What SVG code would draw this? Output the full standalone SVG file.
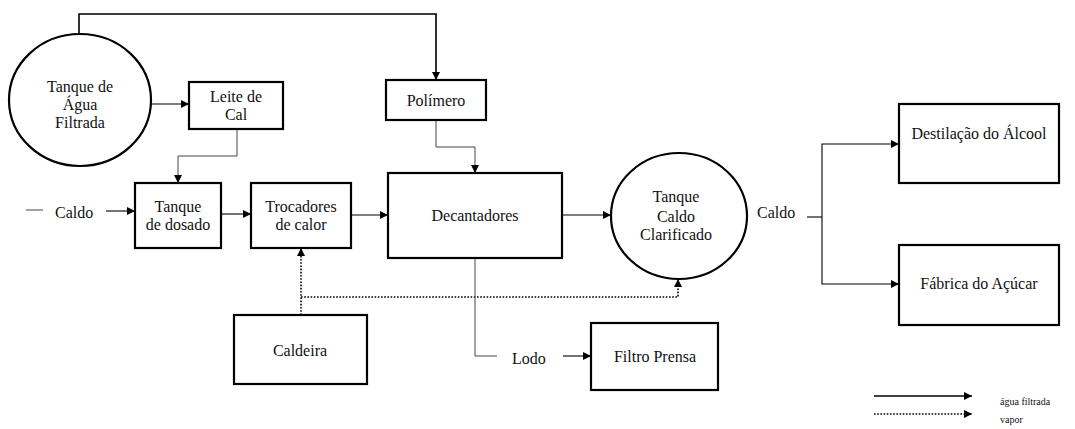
<svg xmlns="http://www.w3.org/2000/svg" width="1075" height="429" viewBox="0 0 1075 429">
  <style>
    .box { fill: #fff; stroke: #000; stroke-width: 2.2; }
    .lbl { font-family: 'Liberation Serif', 'DejaVu Serif', serif; font-size: 16px; fill: #111; text-anchor: middle; }
    .lbl-l { font-family: 'Liberation Serif', 'DejaVu Serif', serif; font-size: 16px; fill: #111; }
    .leg { font-family: 'Liberation Serif', 'DejaVu Serif', serif; font-size: 10px; fill: #111; }
    .flow { fill: none; stroke: #000; stroke-width: 1.1; }
    .thin { fill: none; stroke: #444; stroke-width: 1; }
    .main { fill: none; stroke: #000; stroke-width: 1.6; }
    .steam { fill: none; stroke: #000; stroke-width: 1.6; stroke-dasharray: 1.6 1.6; }
  </style>
  <defs>
    <marker id="ah" viewBox="0 0 10 10" refX="10" refY="5" markerWidth="8" markerHeight="8" markerUnits="userSpaceOnUse" orient="auto">
      <path d="M0,0 L10,5 L0,10 Z" fill="#000"/>
    </marker>
  </defs>

  <rect width="1075" height="429" fill="#fff"/>

  <!-- connectors -->
  <g id="connectors">
    <path class="main" d="M79,34 V14 H436 V80" marker-end="url(#ah)"/>
    <path class="flow" d="M151,104 H189" marker-end="url(#ah)"/>
    <path class="thin" d="M237,129 V156 H178 V183" marker-end="url(#ah)"/>
    <path class="thin" d="M26,210 H43"/>
    <path class="flow" d="M106,211 H135" marker-end="url(#ah)"/>
    <path class="flow" d="M221,214 H251" marker-end="url(#ah)"/>
    <path class="flow" d="M351,215 H388" marker-end="url(#ah)"/>
    <path class="thin" d="M436,120 V147 H475 V173" marker-end="url(#ah)"/>
    <path class="flow" d="M562,215 H611" marker-end="url(#ah)"/>
    <path class="flow" d="M807,217 H822"/>
    <path class="flow" d="M822,217 V144 H899" marker-end="url(#ah)"/>
    <path class="flow" d="M822,217 V284 H899" marker-end="url(#ah)"/>
    <path class="steam" d="M301,315 V248" marker-end="url(#ah)"/>
    <path class="steam" d="M301,297 H678 V279" marker-end="url(#ah)"/>
    <path class="thin" d="M475,258 V356 H497"/>
    <path class="flow" d="M563,356 H591" marker-end="url(#ah)"/>
  </g>

  <!-- nodes -->
  <g id="tanque-agua">
    <ellipse class="box" cx="80" cy="100" rx="71" ry="66"/>
    <text class="lbl" x="80" y="92">Tanque de</text>
    <text class="lbl" x="80" y="110">Água</text>
    <text class="lbl" x="80" y="128">Filtrada</text>
  </g>
  <g id="leite-cal">
    <rect class="box" x="189" y="82" width="94" height="47"/>
    <text class="lbl" x="236" y="102">Leite de</text>
    <text class="lbl" x="236" y="120">Cal</text>
  </g>
  <g id="caldo-entrada">
    <text class="lbl-l" x="55" y="218">Caldo</text>
  </g>
  <g id="tanque-dosado">
    <rect class="box" x="135" y="183" width="86" height="65"/>
    <text class="lbl" x="178" y="212">Tanque</text>
    <text class="lbl" x="178" y="230">de dosado</text>
  </g>
  <g id="trocadores">
    <rect class="box" x="251" y="183" width="100" height="65"/>
    <text class="lbl" x="301" y="212">Trocadores</text>
    <text class="lbl" x="301" y="230">de calor</text>
  </g>
  <g id="polimero">
    <rect class="box" x="386" y="80" width="100" height="40"/>
    <text class="lbl" x="436" y="106">Polímero</text>
  </g>
  <g id="decantadores">
    <rect class="box" x="388" y="173" width="174" height="85"/>
    <text class="lbl" x="475" y="221">Decantadores</text>
  </g>
  <g id="tanque-clarificado">
    <ellipse class="box" cx="679" cy="216" rx="68" ry="63"/>
    <text class="lbl" x="676" y="202">Tanque</text>
    <text class="lbl" x="676" y="222">Caldo</text>
    <text class="lbl" x="676" y="240">Clarificado</text>
  </g>
  <g id="caldo-saida">
    <text class="lbl-l" x="757" y="218">Caldo</text>
  </g>
  <g id="destilacao">
    <rect class="box" x="899" y="104" width="160" height="79"/>
    <text class="lbl" x="979" y="139">Destilação do Álcool</text>
  </g>
  <g id="fabrica">
    <rect class="box" x="899" y="245" width="160" height="80"/>
    <text class="lbl" x="979" y="289">Fábrica do Açúcar</text>
  </g>
  <g id="caldeira">
    <rect class="box" x="234" y="315" width="133" height="69"/>
    <text class="lbl" x="300" y="356">Caldeira</text>
  </g>
  <g id="lodo">
    <text class="lbl-l" x="512" y="364">Lodo</text>
  </g>
  <g id="filtro-prensa">
    <rect class="box" x="591" y="323" width="127" height="67"/>
    <text class="lbl" x="655" y="362">Filtro Prensa</text>
  </g>

  <!-- legend -->
  <g id="legenda">
    <path class="main" d="M874,396 H972" marker-end="url(#ah)"/>
    <path class="steam" d="M874,414 H972" marker-end="url(#ah)"/>
    <text class="leg" x="1000" y="405">água filtrada</text>
    <text class="leg" x="1000" y="423">vapor</text>
  </g>
</svg>
